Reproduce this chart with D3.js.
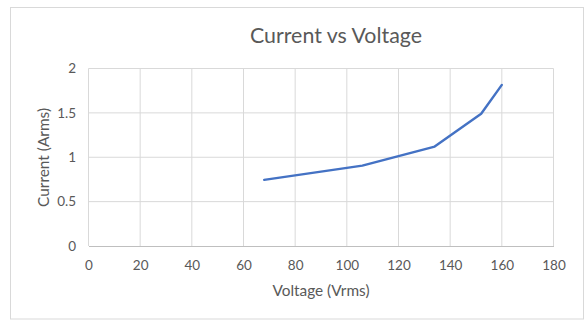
<!DOCTYPE html>
<html><head><meta charset="utf-8">
<script src="https://cdn.jsdelivr.net/npm/d3@7/dist/d3.min.js"></script>
<style>body{margin:0;background:#fff;}svg{display:block;}</style>
</head><body>
<script>
const voltage = [68, 106, 134, 152, 160];
const current = [0.745, 0.905, 1.12, 1.49, 1.815];
const xTicks = [0, 20, 40, 60, 80, 100, 120, 140, 160, 180];
const yTicks = [0, 0.5, 1, 1.5, 2];
const yTickLabels = ["0", "0.5", "1", "1.5", "2"];
const title = "Current vs Voltage";
const xTitle = "Voltage (Vrms)";
const yTitle = "Current (Arms)";

const W = 588, H = 328;
const svg = d3.select("body").append("svg").attr("width", W).attr("height", H);
const font = "Lato, 'Open Sans', sans-serif";
svg.append("rect").attr("width", W).attr("height", H).attr("fill", "#fff");
svg.append("rect").attr("x", 10.5).attr("y", 7.5).attr("width", 573).attr("height", 311.5)
  .attr("fill", "none").attr("stroke", "#d9d9d9").attr("stroke-width", 1);

const x = d3.scaleLinear().domain([0, 180]).range([88.5, 553.5]);
const y = d3.scaleLinear().domain([0, 2]).range([246, 68.5]);

// size a text so its width matches the target width
function fit(sel, target) {
  sel.style("font-size", "100px");
  const w = sel.node().getComputedTextLength();
  sel.style("font-size", (100 * target / w).toFixed(2) + "px");
}

// gridlines
svg.append("g").selectAll("line").data(xTicks).join("line")
  .attr("x1", d => x(d)).attr("x2", d => x(d)).attr("y1", y(0)).attr("y2", y(2))
  .attr("stroke", "#d9d9d9").attr("stroke-width", 1);
svg.append("g").selectAll("line").data(yTicks.filter(d => d > 0)).join("line")
  .attr("x1", x(0)).attr("x2", x(180)).attr("y1", d => y(d)).attr("y2", d => y(d))
  .attr("stroke", "#d9d9d9").attr("stroke-width", 1);

// x axis
const xAxis = svg.append("g").attr("transform", `translate(0,${y(0)})`)
  .call(d3.axisBottom(x).tickValues(xTicks).tickSize(0).tickPadding(14).tickFormat(d3.format("d")));
xAxis.select(".domain").attr("stroke", "#bfbfbf");
xAxis.selectAll("text").attr("fill", "#595959").style("font-family", font).style("font-size", "13.5px");

// y axis
const yAxis = svg.append("g").attr("transform", `translate(${x(0)},0)`)
  .call(d3.axisLeft(y).tickValues(yTicks).tickSize(0).tickPadding(12.5).tickFormat((d, i) => yTickLabels[i]));
yAxis.select(".domain").remove();
yAxis.selectAll("text").attr("fill", "#595959").style("font-family", font).style("font-size", "13.5px");

// line
const line = d3.line().x((d, i) => x(voltage[i])).y(d => y(d));
svg.append("path").datum(current).attr("d", line)
  .attr("fill", "none").attr("stroke", "#4472c4").attr("stroke-width", 2.4)
  .attr("stroke-linejoin", "round").attr("stroke-linecap", "round");

// titles
const t = svg.append("text").attr("x", 336).attr("y", 43).attr("text-anchor", "middle")
  .attr("fill", "#595959").style("font-family", font).text(title);
fit(t, 172);
const xt = svg.append("text").attr("x", 321).attr("y", 295.5).attr("text-anchor", "middle")
  .attr("fill", "#595959").style("font-family", font).text(xTitle);
fit(xt, 97);
const yt = svg.append("text").attr("transform", "translate(48.5,157.5) rotate(-90)").attr("text-anchor", "middle")
  .attr("fill", "#595959").style("font-family", font).text(yTitle);
fit(yt, 99);
</script>
</body></html>
